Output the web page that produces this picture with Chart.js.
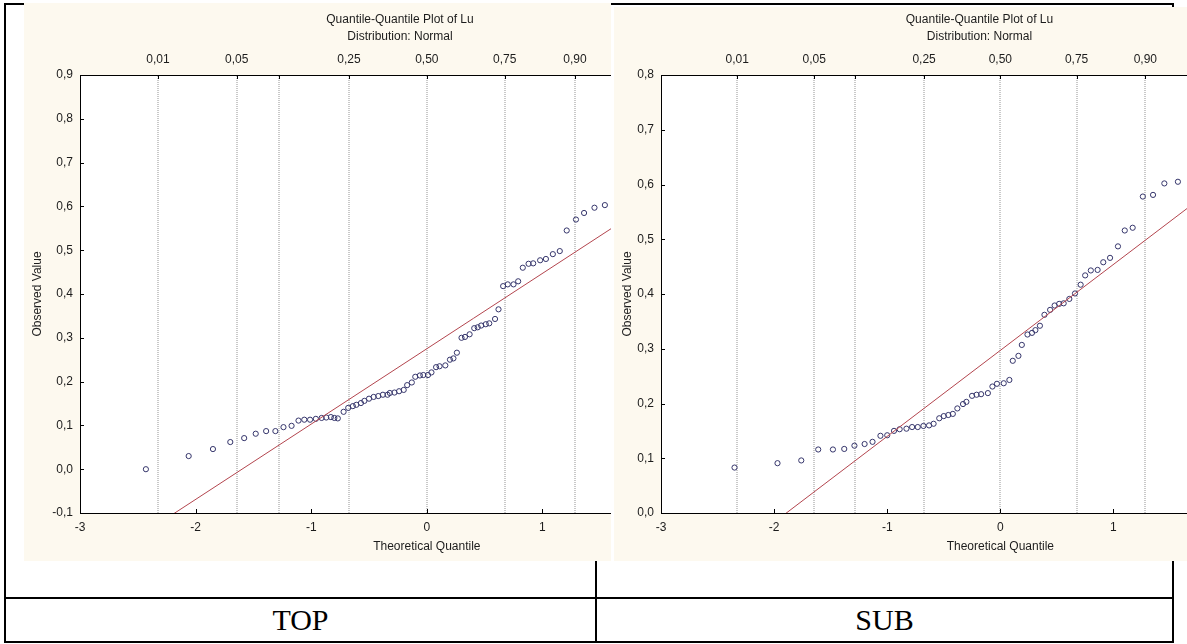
<!doctype html>
<html>
<head>
<meta charset="utf-8">
<title>Quantile-Quantile Plot of Lu</title>
<script src="https://cdn.jsdelivr.net/npm/chart.js@4.4.1/dist/chart.umd.min.js"></script>
<style>
    body { margin: 0; background: #fff; }
    #sheet { position: relative; width: 1187px; height: 644px; overflow: hidden; }
    .rule { position: absolute; background: #000; }
    .name {
        position: absolute; top: 599px; height: 42px; line-height: 42px;
        text-align: center; font-family: "Liberation Serif", "Times New Roman", serif; font-size: 30px; color: #000;
    }
    .plot { position: absolute; overflow: hidden; background: #fdf9ef; }
    .plot canvas { position: absolute; left: 0; top: 0; }
</style>
</head>
<body>
<div id="sheet">
    <!-- table frame -->
    <div class="rule" style="left:4px; top:3px; width:1170px; height:2px;"></div>
    <div class="rule" style="left:4px; top:641px; width:1170px; height:2px;"></div>
    <div class="rule" style="left:4px; top:3px; width:2px; height:640px;"></div>
    <div class="rule" style="left:1172px; top:3px; width:2px; height:640px;"></div>
    <div class="rule" style="left:595px; top:3px; width:2px; height:640px;"></div>
    <div class="rule" style="left:4px; top:597px; width:1170px; height:2px;"></div>
    <div class="name" style="left:6px; width:589px;">TOP</div>
    <div class="name" style="left:597px; width:575px;">SUB</div>

    <div class="plot" style="left:24px; top:3px; width:587px; height:558px;">
        <canvas id="qqTop" width="760" height="558"></canvas>
    </div>
    <div class="plot" style="left:614px; top:7px; width:573px; height:554px;">
        <canvas id="qqSub" width="736" height="554"></canvas>
    </div>
</div>

<script>
// TOP sample: theoretical normal quantile and observed value of each point
var topQuantile = [
    -2.43, -2.06, -1.85, -1.70, -1.58, -1.48, -1.39, -1.31, -1.24, -1.17,
    -1.11, -1.06, -1.01, -0.96, -0.91, -0.87, -0.83, -0.80, -0.77, -0.72,
    -0.68, -0.64, -0.61, -0.57, -0.54, -0.50, -0.46, -0.42, -0.38, -0.34,
    -0.32, -0.28, -0.24, -0.20, -0.17, -0.13, -0.10, -0.06, -0.03, 0.01,
    0.04, 0.08, 0.11, 0.16, 0.20, 0.23, 0.26, 0.30, 0.33, 0.37,
    0.41, 0.44, 0.47, 0.51, 0.54, 0.59, 0.62, 0.66, 0.70, 0.75,
    0.79, 0.83, 0.88, 0.92, 0.98, 1.03, 1.09, 1.15, 1.21, 1.29,
    1.36, 1.45, 1.54
];
var topObserved = [
    0.000, 0.030, 0.046, 0.062, 0.071, 0.081, 0.087, 0.087, 0.096, 0.099,
    0.111, 0.113, 0.113, 0.115, 0.117, 0.118, 0.119, 0.117, 0.116, 0.131,
    0.140, 0.144, 0.147, 0.151, 0.156, 0.161, 0.165, 0.167, 0.170, 0.170,
    0.174, 0.175, 0.178, 0.181, 0.192, 0.198, 0.211, 0.214, 0.215, 0.215,
    0.221, 0.233, 0.235, 0.237, 0.250, 0.253, 0.266, 0.300, 0.302, 0.308,
    0.322, 0.324, 0.328, 0.331, 0.333, 0.343, 0.365, 0.418, 0.422, 0.422,
    0.429, 0.460, 0.469, 0.470, 0.477, 0.480, 0.491, 0.498, 0.545, 0.570,
    0.585, 0.597, 0.603
];

// SUB sample
var subQuantile = [
    -2.35, -1.97, -1.76, -1.61, -1.48, -1.38, -1.29, -1.20, -1.13, -1.06,
    -1.00, -0.94, -0.89, -0.83, -0.78, -0.73, -0.68, -0.63, -0.59, -0.54,
    -0.50, -0.46, -0.42, -0.38, -0.33, -0.30, -0.25, -0.21, -0.17, -0.11,
    -0.07, -0.03, 0.03, 0.08, 0.11, 0.16, 0.19, 0.24, 0.28, 0.31,
    0.35, 0.39, 0.44, 0.48, 0.52, 0.56, 0.61, 0.66, 0.71, 0.75,
    0.80, 0.86, 0.91, 0.97, 1.04, 1.10, 1.17, 1.26, 1.35, 1.45,
    1.57
];
var subObserved = [
    0.083, 0.091, 0.096, 0.116, 0.116, 0.117, 0.123, 0.126, 0.130, 0.141,
    0.142, 0.150, 0.153, 0.154, 0.157, 0.157, 0.159, 0.160, 0.163, 0.173,
    0.177, 0.179, 0.181, 0.191, 0.199, 0.203, 0.214, 0.216, 0.217, 0.219,
    0.231, 0.236, 0.237, 0.243, 0.278, 0.287, 0.307, 0.326, 0.329, 0.334,
    0.342, 0.362, 0.371, 0.379, 0.382, 0.383, 0.391, 0.401, 0.417, 0.434,
    0.443, 0.444, 0.458, 0.466, 0.487, 0.516, 0.521, 0.578, 0.581, 0.602,
    0.605
];

// fitted normal lines, end points at x = -3 and x = 3
var fitQuantile = [-3, 3];
var topFit = [-0.241, 0.791];
var subFit = [-0.174, 0.768];

// probability scale along the top edge (z values of the normal quantiles)
var probZ = [-2.326, -1.645, -1.282, -0.674, 0, 0.674, 1.282];
var probLabels = ['0,01', '0,05', '', '0,25', '0,50', '0,75', '0,90'];

var FONT = '"Liberation Sans", Arial, sans-serif';
var INK = '#1c1c1c';

function pairs(xs, ys) {
    return xs.map(function (x, i) { return { x: x, y: ys[i] }; });
}

function comma(v) {
    return (Math.round(v * 10) / 10).toFixed(1).replace('.', ',');
}

// cream page, white plotting area
var plotBackground = {
    id: 'plotBackground',
    beforeDraw: function (chart) {
        var ctx = chart.ctx, a = chart.chartArea;
        ctx.save();
        ctx.fillStyle = '#fdf9ef';
        ctx.fillRect(0, 0, chart.width, chart.height);
        ctx.fillStyle = '#ffffff';
        ctx.fillRect(a.left, a.top, a.right - a.left, a.bottom - a.top);
        ctx.restore();
    }
};

// short tick marks pointing into the plot
var innerTicks = {
    id: 'innerTicks',
    afterDraw: function (chart) {
        var ctx = chart.ctx, a = chart.chartArea, s = chart.scales;
        ctx.save();
        ctx.strokeStyle = '#000';
        ctx.lineWidth = 1;
        ctx.beginPath();
        s.x.ticks.forEach(function (t) {
            var px = Math.round(s.x.getPixelForValue(t.value)) + 0.5;
            ctx.moveTo(px, a.bottom);
            ctx.lineTo(px, a.bottom - 4);
        });
        s.xTop.ticks.forEach(function (t) {
            var px = Math.round(s.xTop.getPixelForValue(t.value)) + 0.5;
            ctx.moveTo(px, a.top);
            ctx.lineTo(px, a.top + 4);
        });
        s.y.ticks.forEach(function (t) {
            var py = Math.round(s.y.getPixelForValue(t.value)) + 0.5;
            ctx.moveTo(a.left, py);
            ctx.lineTo(a.left + 4, py);
        });
        ctx.stroke();
        ctx.restore();
    }
};

function qqChart(id, quantiles, observed, fit, yMin, yMax, box) {
    var canvas = document.getElementById(id);
    var titleTop = box.titleTop;
    var titleHeight = titleTop + 2 * 17;

    return new Chart(canvas, {
        type: 'scatter',
        data: {
            datasets: [{
                type: 'line',
                data: pairs(fitQuantile, fit),
                borderColor: '#b3454e',
                borderWidth: 1,
                pointRadius: 0,
                fill: false
            }, {
                data: pairs(quantiles, observed),
                pointStyle: 'circle',
                pointRadius: 2.6,
                pointBorderWidth: 1,
                pointBorderColor: '#36366c',
                pointBackgroundColor: 'rgba(255,255,255,0)'
            }]
        },
        options: {
            responsive: false,
            animation: false,
            devicePixelRatio: 1,
            layout: { padding: { left: 0, top: 0, bottom: 0, right: canvas.width - box.right } },
            plugins: {
                legend: { display: false },
                tooltip: { enabled: false },
                title: {
                    display: true,
                    text: ['Quantile-Quantile Plot of Lu', 'Distribution: Normal'],
                    color: INK,
                    font: { family: FONT, size: 12, weight: 'normal', lineHeight: '17px' },
                    padding: { top: titleTop, bottom: 0 }
                }
            },
            scales: {
                x: {
                    type: 'linear',
                    position: 'bottom',
                    min: -3,
                    max: 3,
                    grid: { display: false, drawTicks: false },
                    border: { display: true, color: '#000', width: 1 },
                    ticks: {
                        stepSize: 1,
                        padding: 7,
                        color: INK,
                        font: { family: FONT, size: 12 },
                        callback: function (v) { return String(Math.round(v)); }
                    },
                    title: {
                        display: true,
                        text: 'Theoretical Quantile',
                        color: INK,
                        font: { family: FONT, size: 12 },
                        padding: { top: 0, bottom: 7 }
                    },
                    afterFit: function (s) { s.height = canvas.height - box.bottom; }
                },
                xTop: {
                    type: 'linear',
                    position: 'top',
                    min: -3,
                    max: 3,
                    afterBuildTicks: function (s) {
                        s.ticks = probZ.map(function (z) { return { value: z }; });
                    },
                    grid: { display: true, drawTicks: false, color: '#c9c9c9', lineWidth: 2 },
                    border: { display: true, color: '#000', width: 1, dash: [1, 1] },
                    ticks: {
                        autoSkip: false,
                        maxRotation: 0,
                        padding: 8,
                        color: INK,
                        font: { family: FONT, size: 12 },
                        callback: function (v, i) { return probLabels[i]; }
                    },
                    afterFit: function (s) { s.height = box.top - titleHeight; }
                },
                y: {
                    type: 'linear',
                    min: yMin,
                    max: yMax,
                    grid: { display: false, drawTicks: false },
                    border: { display: true, color: '#000', width: 1 },
                    ticks: {
                        stepSize: 0.1,
                        padding: 7,
                        color: INK,
                        font: { family: FONT, size: 12 },
                        callback: comma
                    },
                    title: {
                        display: true,
                        text: 'Observed Value',
                        color: INK,
                        font: { family: FONT, size: 12 },
                        padding: { top: 6, bottom: 0 }
                    },
                    afterFit: function (s) { s.width = box.left; }
                }
            }
        },
        plugins: [plotBackground, innerTicks]
    });
}

qqChart('qqTop', topQuantile, topObserved, topFit, -0.1, 0.9,
    { left: 56, top: 72, bottom: 510, right: 752, titleTop: 8.5 });
qqChart('qqSub', subQuantile, subObserved, subFit, 0, 0.8,
    { left: 47, top: 68, bottom: 506, right: 731, titleTop: 4.5 });
</script>
</body>
</html>
